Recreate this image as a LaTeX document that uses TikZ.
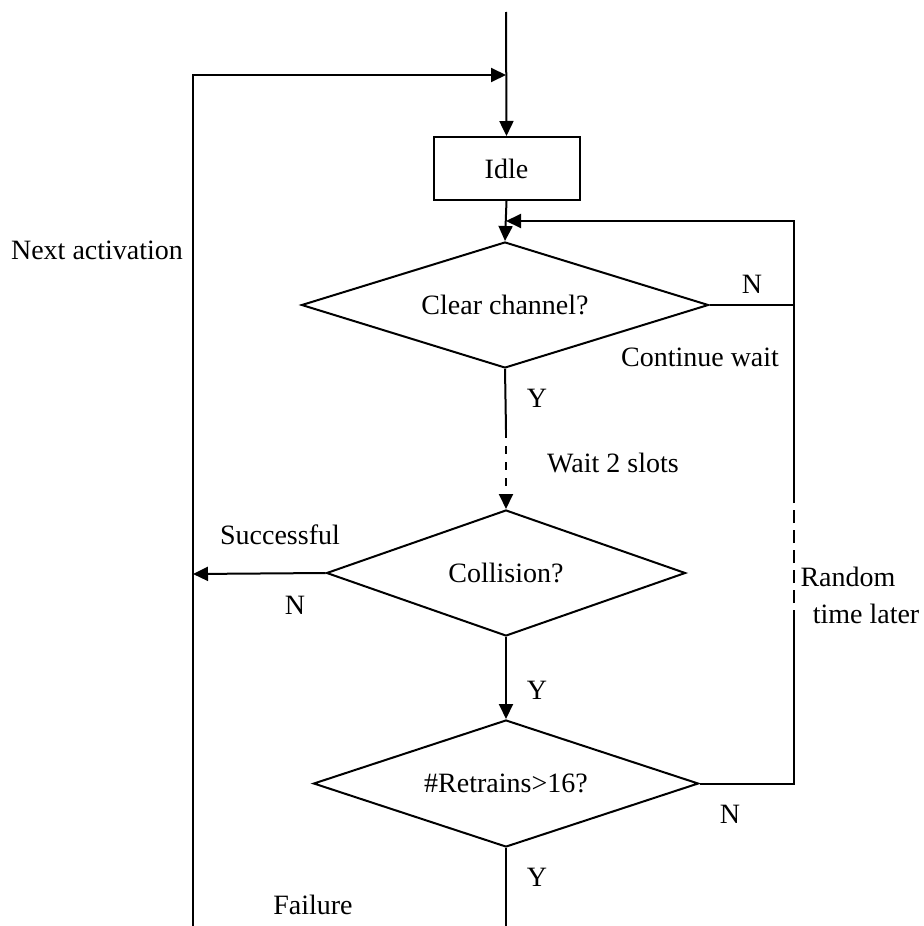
\documentclass[tikz,border=0pt]{standalone}
\usepackage{fontspec}
\setmainfont{Liberation Serif}
\usetikzlibrary{shapes.geometric,arrows.meta}
\begin{document}
\begin{tikzpicture}[x=0.5pt,y=-0.5pt,
  line width=1pt,
  every node/.style={font=\fontsize{14}{16}\selectfont},
  arr/.style={-{Triangle[length=7.5pt,width=7pt]}},
  box/.style={draw,rectangle,inner sep=0pt,minimum width=73pt,minimum height=31.5pt},
  dec/.style={draw,diamond,inner sep=0pt,aspect=3},
  lbl/.style={inner sep=0pt},
  dsh/.style={dash pattern=on 4pt off 4pt},
  dshr/.style={dash pattern=on 6.5pt off 3.5pt}]
\useasboundingbox (0,0) rectangle (923,926);
% nodes
\node[box] (idle) at (506.5,168.5) {Idle};
\node[dec,minimum width=203.5pt,minimum height=63pt] (d1) at (505,305) {Clear channel?};
\node[dec,minimum width=179.5pt,minimum height=63pt] (d2) at (506,573) {Collision?};
\node[dec,minimum width=192.5pt,minimum height=63.5pt] (d3) at (506,783.5) {\#Retrains>16?};
% coordinates
\coordinate (top) at (506,12);
\coordinate (j) at (506,75);
\coordinate (lb) at (193,926);
\coordinate (m1) at (506,221);
\coordinate (r1) at (794,221);
\coordinate (r2) at (794,492);
\coordinate (r3) at (794,623);
\coordinate (ydash) at (506,430);
\coordinate (succ) at (193,574);
\coordinate (bot) at (506,926);
% connectors
\draw[arr] (top) -- (idle.north);
\draw[arr] (lb) |- (j);
\draw[arr] (idle.south) -- (d1.north);
\draw[arr] (d1.east) -| (r1) -- (m1);
\draw (d1.south) -- (ydash);
\draw[arr,dsh] (ydash) -- (d2.north);
\draw[arr] (d2.west) -- (succ);
\draw[arr] (d2.south) -- (d3.north);
\draw (d3.east) -| (r3);
\draw[dshr] (r3) -- (r2);
\draw (r2) -- (794,305);
\draw (d3.south) -- (bot);
% labels
\node[lbl] (l1) at (97,250) {Next activation};
\node[lbl] (l2) at (752,284) {N};
\node[lbl] (l3) at (700,357) {Continue wait};
\node[lbl] (l4) at (537,398) {Y};
\node[lbl] (l5) at (613,463) {Wait 2 slots};
\node[lbl] (l6) at (280,535) {Successful};
\node[lbl] (l7) at (295,605) {N};
\node[lbl] (l8) at (848,577) {Random};
\node[lbl] (l9) at (866,614) {time later};
\node[lbl] (l10) at (537,690) {Y};
\node[lbl] (l11) at (730,814) {N};
\node[lbl] (l12) at (537,877) {Y};
\node[lbl] (l13) at (313,905) {Failure};
\end{tikzpicture}
\end{document}
